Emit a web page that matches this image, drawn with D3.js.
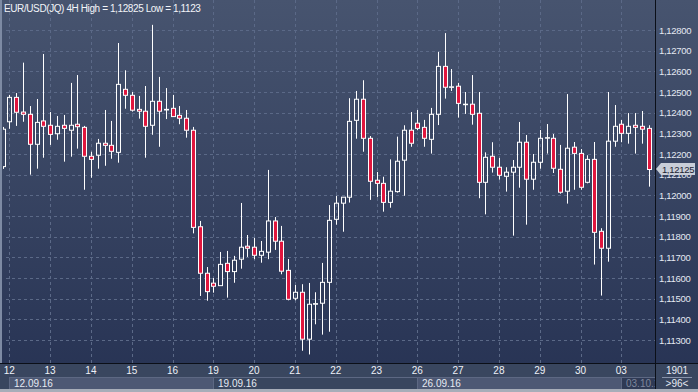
<!DOCTYPE html>
<html>
<head>
<meta charset="utf-8">
<script src="https://cdn.jsdelivr.net/npm/d3@7"></script>
<style>
  body { margin: 0; background: #2c3856; }
  svg { display: block; font-family: "Liberation Sans", Arial, sans-serif; }
</style>
</head>
<body>
<svg id="chart" width="698" height="392"></svg>
<script>
// EUR/USD 4H candles (96 bars, oldest first)
let open = [
  1.12139, 1.12356, 1.12474, 1.12403, 1.12392, 1.12247, 1.12360, 1.12339, 1.12298, 1.12339,
  1.12315, 1.12344, 1.12329, 1.12189, 1.12194, 1.12252, 1.12242, 1.12208, 1.12513, 1.12484,
  1.12416, 1.12407, 1.12339, 1.12455, 1.12413, 1.12421, 1.12387, 1.12373, 1.12315, 1.11848,
  1.11623, 1.11575, 1.11563, 1.11671, 1.11631, 1.11691, 1.11754, 1.11749, 1.11710, 1.11725,
  1.11876, 1.11778, 1.11637, 1.11502, 1.11531, 1.11304, 1.11473, 1.11478, 1.11579, 1.11884,
  1.11962, 1.11991, 1.12363, 1.12465, 1.12276, 1.12073, 1.12058, 1.11966, 1.12018, 1.12170,
  1.12315, 1.12349, 1.12329, 1.12271, 1.12392, 1.12624, 1.12523, 1.12528, 1.12440, 1.12441,
  1.12397, 1.12063, 1.12189, 1.12136, 1.12092, 1.12112, 1.12136, 1.12257, 1.12078, 1.12160,
  1.12278, 1.12276, 1.12126, 1.12020, 1.12233, 1.12203, 1.12063, 1.12174, 1.11826, 1.11744,
  1.12262, 1.12344, 1.12300, 1.12339, 1.12334, 1.12324
]
let high = [
  1.12331, 1.12486, 1.12495, 1.12642, 1.12432, 1.12466, 1.12684, 1.12403, 1.12384, 1.12389,
  1.12544, 1.12582, 1.12336, 1.12211, 1.12273, 1.12413, 1.12360, 1.12737, 1.12605, 1.12500,
  1.12481, 1.12529, 1.12825, 1.12573, 1.12519, 1.12486, 1.12432, 1.12413, 1.12331, 1.11876,
  1.11653, 1.11600, 1.11726, 1.11731, 1.11707, 1.11963, 1.11808, 1.11794, 1.11779, 1.12123,
  1.11895, 1.11852, 1.11692, 1.11566, 1.11570, 1.11576, 1.11531, 1.11673, 1.11953, 1.11997,
  1.11991, 1.12470, 1.12505, 1.12557, 1.12287, 1.12113, 1.12090, 1.12174, 1.12284, 1.12339,
  1.12403, 1.12413, 1.12365, 1.12423, 1.12694, 1.12785, 1.12611, 1.12544, 1.12500, 1.12582,
  1.12500, 1.12208, 1.12257, 1.12181, 1.12136, 1.12171, 1.12355, 1.12292, 1.12200, 1.12316,
  1.12345, 1.12297, 1.12244, 1.12490, 1.12258, 1.12224, 1.12194, 1.12258, 1.11841, 1.12500,
  1.12437, 1.12365, 1.12398, 1.12398, 1.12408, 1.12339
]
let low = [
  1.12128, 1.12322, 1.12336, 1.12356, 1.12100, 1.12129, 1.12182, 1.12244, 1.12269, 1.12163,
  1.12187, 1.12226, 1.12027, 1.12085, 1.12129, 1.12143, 1.12177, 1.12158, 1.12419, 1.12405,
  1.12371, 1.12182, 1.12293, 1.12235, 1.12369, 1.12379, 1.12344, 1.12279, 1.11816, 1.11513,
  1.11490, 1.11529, 1.11563, 1.11505, 1.11577, 1.11645, 1.11702, 1.11691, 1.11674, 1.11691,
  1.11736, 1.11618, 1.11492, 1.11492, 1.11248, 1.11230, 1.11376, 1.11326, 1.11340, 1.11858,
  1.11824, 1.11965, 1.12274, 1.12211, 1.11978, 1.11991, 1.11921, 1.11940, 1.12013, 1.11998,
  1.12235, 1.12315, 1.12235, 1.12202, 1.12340, 1.12468, 1.12505, 1.12376, 1.12394, 1.12342,
  1.11986, 1.11908, 1.12110, 1.12076, 1.12018, 1.11805, 1.12037, 1.11858, 1.12027, 1.12129,
  1.12202, 1.12108, 1.12008, 1.11960, 1.12027, 1.12027, 1.12058, 1.11665, 1.11515, 1.11679,
  1.12235, 1.12257, 1.12250, 1.12202, 1.12250, 1.12042
]
let close = [
  1.12320, 1.12474, 1.12402, 1.12392, 1.12247, 1.12353, 1.12334, 1.12295, 1.12334, 1.12324,
  1.12339, 1.12332, 1.12189, 1.12174, 1.12252, 1.12242, 1.12213, 1.12537, 1.12484, 1.12412,
  1.12407, 1.12334, 1.12455, 1.12407, 1.12416, 1.12381, 1.12373, 1.12315, 1.11845, 1.11623,
  1.11534, 1.11560, 1.11666, 1.11631, 1.11686, 1.11749, 1.11744, 1.11710, 1.11729, 1.11876,
  1.11778, 1.11633, 1.11497, 1.11531, 1.11304, 1.11473, 1.11476, 1.11579, 1.11879, 1.11962,
  1.11991, 1.12358, 1.12465, 1.12276, 1.12068, 1.12058, 1.11966, 1.12020, 1.12165, 1.12315,
  1.12252, 1.12324, 1.12276, 1.12392, 1.12624, 1.12523, 1.12525, 1.12445, 1.12441, 1.12392,
  1.12063, 1.12184, 1.12136, 1.12097, 1.12112, 1.12136, 1.12257, 1.12078, 1.12160, 1.12276,
  1.12279, 1.12131, 1.12015, 1.12228, 1.12203, 1.12039, 1.12174, 1.11821, 1.11744, 1.12262,
  1.12334, 1.12300, 1.12334, 1.12329, 1.12320, 1.12125
]

let dayLabels = ["12", "13", "14", "15", "16", "19", "20", "21", "22", "23", "26", "27", "28", "29", "30", "03"]
let weekLabels = ["12.09.16", "19.09.16", "26.09.16", "03.10.16"]
let priceTicks = [1.113, 1.114, 1.115, 1.116, 1.117, 1.118, 1.119, 1.120, 1.121, 1.122, 1.123, 1.124, 1.125, 1.126, 1.127, 1.128]
let barsPerDay = 6
let firstDayBar = 1
let title = "EUR/USD(JQ) 4H High = 1,12825 Low = 1,1123"
let barCount = "1901"

let width = 698
let height = 392
let plotRight = 655
let plotBottom = 363

let svg = d3.select('#chart')
let defs = svg.append('defs')

let bg = defs.append('linearGradient').attr('id', 'bg').attr('x1', 0).attr('y1', 0).attr('x2', 0).attr('y2', 1)
bg.append('stop').attr('offset', '0%').attr('stop-color', '#47546f')
bg.append('stop').attr('offset', '100%').attr('stop-color', '#263253')

defs.append('clipPath').attr('id', 'plotClip')
    .append('rect').attr('x', 3).attr('y', 0).attr('width', plotRight - 3).attr('height', plotBottom)
defs.append('clipPath').attr('id', 'weekClip')
    .append('rect').attr('x', 0).attr('y', plotBottom).attr('width', plotRight).attr('height', height - plotBottom)

let fmt = (v) => d3.format('.5f')(v).replace('.', ',')

// scales
let x = d3.scaleBand()
    .domain(d3.range(open.length))
    .range([-0.9, -0.9 + open.length * 6.8])
    .paddingInner(0.4)
    .paddingOuter(0.2)

let cx = (i) => x(i) + x.bandwidth() / 2

let y = d3.scaleLinear()
    .domain([1.113, 1.128])
    .range([340, 30])

// backgrounds
svg.append('rect').attr('width', width).attr('height', height).attr('fill', 'url(#bg)')
svg.append('rect').attr('x', 0).attr('y', plotBottom).attr('width', width).attr('height', height - plotBottom)
    .attr('fill', '#39465f')

// grid
let grid = svg.append('g').attr('clip-path', 'url(#plotClip)')
    .attr('stroke', '#5b6987').attr('stroke-dasharray', '3,3').attr('stroke-width', 1)

grid.selectAll('.hgrid')
    .data(priceTicks)
    .enter()
    .append('line')
    .attr('x1', 0).attr('x2', plotRight)
    .attr('y1', (d) => Math.round(y(d)) + 0.5)
    .attr('y2', (d) => Math.round(y(d)) + 0.5)

grid.selectAll('.vgrid')
    .data(dayLabels)
    .enter()
    .append('line')
    .attr('x1', (d, k) => Math.round(cx(firstDayBar + k * barsPerDay)) + 0.5)
    .attr('x2', (d, k) => Math.round(cx(firstDayBar + k * barsPerDay)) + 0.5)
    .attr('y1', 0).attr('y2', plotBottom)

// candles
let candles = open.map((o, i) => ({ i: i, o: o, h: high[i], l: low[i], c: close[i] }))

let plot = svg.append('g').attr('clip-path', 'url(#plotClip)')

let bars = plot.selectAll('.candle')
    .data(candles)
    .enter()
    .append('g')

// upper and lower wick, so hollow bodies stay empty
bars.append('line')
    .attr('x1', (d) => Math.round(cx(d.i)) + 0.5)
    .attr('x2', (d) => Math.round(cx(d.i)) + 0.5)
    .attr('y1', (d) => y(d.h))
    .attr('y2', (d) => y(Math.max(d.o, d.c)))
    .attr('stroke', '#ffffff')

bars.append('line')
    .attr('x1', (d) => Math.round(cx(d.i)) + 0.5)
    .attr('x2', (d) => Math.round(cx(d.i)) + 0.5)
    .attr('y1', (d) => y(Math.min(d.o, d.c)))
    .attr('y2', (d) => y(d.l))
    .attr('stroke', '#ffffff')

bars.append('rect')
    .attr('x', (d) => Math.round(cx(d.i)) - 2 + 0.5)
    .attr('width', 4)
    .attr('y', (d) => y(Math.max(d.o, d.c)))
    .attr('height', (d) => Math.max(0.5, y(Math.min(d.o, d.c)) - y(Math.max(d.o, d.c))))
    .attr('fill', (d) => d.c < d.o ? '#e0163e' : 'none')
    .attr('stroke', '#ffffff')
    .attr('stroke-width', 1)

// frame lines
svg.append('line').attr('x1', plotRight + 0.5).attr('x2', plotRight + 0.5).attr('y1', 0).attr('y2', height)
    .attr('stroke', '#0b0f18')
svg.append('line').attr('x1', 0).attr('x2', width).attr('y1', plotBottom + 0.5).attr('y2', plotBottom + 0.5)
    .attr('stroke', '#0b0f18')
svg.append('rect').attr('x', 0).attr('y', 0).attr('width', 2).attr('height', plotBottom)
    .attr('fill', '#7d8aa3')

// price axis
svg.selectAll('.ptick')
    .data(priceTicks)
    .enter()
    .append('text')
    .attr('x', 659)
    .attr('y', (d) => y(d) + 3.5)
    .attr('fill', '#e4e9f2')
    .attr('font-size', 9.5)
    .attr('letter-spacing', -0.3)
    .text((d) => fmt(d))

// last price tag (covers the nearby tick label, as in the original)
let last = close[close.length - 1]
let ly = Math.round(y(last))
svg.append('path')
    .attr('d', `M656,${ly} L661,${ly - 6} H695 V${ly + 6} H661 Z`)
    .attr('fill', '#c9ced8')
svg.append('text')
    .attr('x', 678).attr('y', ly + 3.5)
    .attr('text-anchor', 'middle')
    .attr('fill', '#1d2333')
    .attr('font-size', 9.5)
    .attr('letter-spacing', -0.3)
    .text(fmt(last))

// time axis: days
svg.selectAll('.dtick')
    .data(dayLabels)
    .enter()
    .append('text')
    .attr('x', (d, k) => cx(firstDayBar + k * barsPerDay))
    .attr('y', 374)
    .attr('text-anchor', 'middle')
    .attr('fill', '#eef1f7')
    .attr('font-size', 10)
    .text((d) => d)

// time axis: weeks
let weekRow = svg.append('g').attr('clip-path', 'url(#weekClip)')

let weeks = weekRow.selectAll('.week')
    .data(weekLabels)
    .enter()
    .append('g')

let wx0 = (k) => Math.round(cx(firstDayBar + k * 5 * barsPerDay))

weeks.append('rect')
    .attr('x', (d, k) => wx0(k) + 0.5)
    .attr('y', 377.5)
    .attr('width', 5 * barsPerDay * x.step())
    .attr('height', 12)
    .attr('fill', (d, k) => k === 3 ? '#2f3a55' : (k % 2 === 0 ? '#4d5874' : '#39465f'))
    .attr('stroke', '#5d6883')

weeks.append('text')
    .attr('x', (d, k) => wx0(k) + 5)
    .attr('y', 386.5)
    .attr('fill', (d, k) => k === 3 ? '#7e879c' : '#e6eaf2')
    .attr('font-size', 10)
    .text((d) => d)

// bottom right corner
svg.append('text').attr('x', 677).attr('y', 374).attr('text-anchor', 'middle')
    .attr('fill', '#e6eaf2').attr('font-size', 10).text(barCount)
svg.append('line').attr('x1', 662).attr('x2', 692).attr('y1', 377.5).attr('y2', 377.5)
    .attr('stroke', '#8792aa')
svg.append('text').attr('x', 677).attr('y', 387).attr('text-anchor', 'middle')
    .attr('fill', '#e6eaf2').attr('font-size', 10).text('>' + open.length + '<')

// bottom border
svg.append('rect').attr('x', 0).attr('y', 389).attr('width', width).attr('height', 3).attr('fill', '#a7adb9')

// title
svg.append('text')
    .attr('x', 4).attr('y', 11.5)
    .attr('fill', '#f2f4f8')
    .attr('font-size', 10)
    .attr('letter-spacing', -0.4)
    .text(title)
</script>
</body>
</html>
